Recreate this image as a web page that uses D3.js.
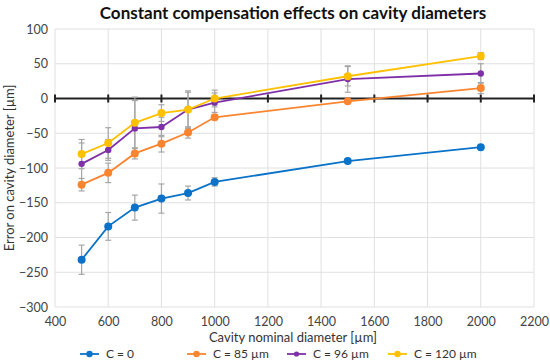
<!DOCTYPE html>
<html>
<head>
<meta charset="utf-8">
<script src="https://cdn.jsdelivr.net/npm/d3@7"></script>
<style>
  body { margin: 0; background: #fff; }
  svg { font-family: Lato, "Liberation Sans", sans-serif; }
</style>
</head>
<body>
<svg id="chart" width="550" height="364"></svg>
<script>
// nominal cavity diameters (µm)
const diameters = [500, 600, 700, 800, 900, 1000, 1500, 2000];

const seriesNames = ["C = 0", "C = 85 \u00b5m", "C = 96 \u00b5m", "C = 120 \u00b5m"];
const seriesColours = ["#0a72c8", "#f98530", "#7f30a8", "#ffc000"];

const valuesC0 = [-232, -184, -157, -144, -136, -120, -90, -70];
const valuesC85 = [-124, -107, -79, -65, -49, -27, -4, 15];
const valuesC96 = [-94, -74, -43, -41, -16, -6, 28, 36];
const valuesC120 = [-80, -64, -35, -21, -16, 0, 32, 61];

const errorsC0 = [21, 20, 18, 21, 10, 6, 0, 0];
const errorsC85 = [9, 14, 8, 12, 8, 3, 2, 8];
const errorsC96 = [30, 15, 40, 14, 25, 14, 19, 14];
const errorsC120 = [21, 22, 37, 12, 27, 12, 14, 5];

const xTicks = [400, 600, 800, 1000, 1200, 1400, 1600, 1800, 2000, 2200];
const yTicks = [100, 50, 0, -50, -100, -150, -200, -250, -300];

const series = [valuesC0, valuesC85, valuesC96, valuesC120].map((vals, i) => ({
    name: seriesNames[i],
    colour: seriesColours[i],
    points: vals.map((v, j) => ({ x: diameters[j], y: v, e: [errorsC0, errorsC85, errorsC96, errorsC120][i][j] }))
}));

const svg = d3.select("#chart");
const margin = { top: 29, right: 16, bottom: 57, left: 55 },
    width = 550 - margin.left - margin.right,
    height = 364 - margin.top - margin.bottom;

const x = d3.scaleLinear().domain([400, 2200]).range([margin.left, margin.left + width]);
const y = d3.scaleLinear().domain([-300, 100]).range([margin.top + height, margin.top]);

// gridlines
svg.append("g")
    .selectAll("line.v")
    .data(xTicks)
    .join("line")
    .attr("x1", d => x(d)).attr("x2", d => x(d))
    .attr("y1", margin.top).attr("y2", margin.top + height)
    .attr("stroke", "#e0e0e0").attr("stroke-width", 1);
svg.append("g")
    .selectAll("line.h")
    .data(yTicks)
    .join("line")
    .attr("x1", margin.left).attr("x2", margin.left + width)
    .attr("y1", d => y(d)).attr("y2", d => y(d))
    .attr("stroke", "#e0e0e0").attr("stroke-width", 1);

// tick labels
svg.append("g")
    .attr("transform", `translate(0,${margin.top + height})`)
    .call(d3.axisBottom(x).tickValues(xTicks).tickSize(0).tickPadding(10).tickFormat(d3.format("d")))
    .call(g => g.select(".domain").remove())
    .call(g => g.selectAll("text").attr("font-size", 12.5).attr("fill", "#444").attr("font-family", "Lato"));
svg.append("g")
    .attr("transform", `translate(${margin.left},0)`)
    .call(d3.axisLeft(y).tickValues(yTicks).tickSize(0).tickPadding(7)
        .tickFormat(d => d < 0 ? "\u2212" + Math.abs(d) : d))
    .call(g => g.select(".domain").remove())
    .call(g => g.selectAll("text").attr("font-size", 12.5).attr("fill", "#444").attr("font-family", "Lato"));

// zero line with tick marks
svg.append("line")
    .attr("x1", x(400)).attr("x2", x(2200))
    .attr("y1", y(0)).attr("y2", y(0))
    .attr("stroke", "#222").attr("stroke-width", 2);
svg.append("g")
    .selectAll("line")
    .data(xTicks)
    .join("line")
    .attr("x1", d => x(d)).attr("x2", d => x(d))
    .attr("y1", y(0) - 4).attr("y2", y(0) + 4)
    .attr("stroke", "#222").attr("stroke-width", 2);

// error bars
const errG = svg.append("g");
series.forEach(s => {
    s.points.filter(p => p.e > 0).forEach(p => {
        const g = errG.append("g").attr("stroke", "#a6a6a6").attr("stroke-width", 1.2);
        g.append("line").attr("x1", x(p.x)).attr("x2", x(p.x)).attr("y1", y(p.y - p.e)).attr("y2", y(p.y + p.e));
        g.append("line").attr("x1", x(p.x) - 3).attr("x2", x(p.x) + 3).attr("y1", y(p.y - p.e)).attr("y2", y(p.y - p.e));
        g.append("line").attr("x1", x(p.x) - 3).attr("x2", x(p.x) + 3).attr("y1", y(p.y + p.e)).attr("y2", y(p.y + p.e));
    });
});

// lines and markers
const line = d3.line().x(d => x(d.x)).y(d => y(d.y));
series.forEach((s, i) => {
    svg.append("path")
        .datum(s.points)
        .attr("fill", "none")
        .attr("stroke", s.colour)
        .attr("stroke-width", 1.8)
        .attr("d", line);
    svg.append("g")
        .selectAll("circle")
        .data(s.points)
        .join("circle")
        .attr("cx", d => x(d.x))
        .attr("cy", d => y(d.y))
        .attr("r", i === 2 ? 3.2 : 4)
        .attr("fill", s.colour);
});

// title and axis titles
svg.append("text")
    .attr("x", 293).attr("y", 19)
    .attr("text-anchor", "middle")
    .attr("font-size", 17).attr("font-weight", "bold").attr("fill", "#111")
    .text("Constant compensation effects on cavity diameters");

svg.append("text")
    .attr("x", 293).attr("y", 342)
    .attr("text-anchor", "middle")
    .attr("font-size", 13).attr("fill", "#333")
    .text("Cavity nominal diameter [\u00b5m]");

svg.append("text")
    .attr("transform", `translate(14,${margin.top + height / 2}) rotate(-90)`)
    .attr("text-anchor", "middle")
    .attr("font-size", 13).attr("fill", "#333")
    .text("Error on cavity diameter [\u00b5m]");

// legend
const legendX = [80, 187, 287, 388];
const legend = svg.append("g");
series.forEach((s, i) => {
    const g = legend.append("g").attr("transform", `translate(${legendX[i]},354)`);
    g.append("line").attr("x1", 0).attr("x2", 19).attr("stroke", s.colour).attr("stroke-width", 1.8);
    g.append("circle").attr("cx", 9.5).attr("r", i === 2 ? 2.6 : 3.2).attr("fill", s.colour);
    g.append("text").attr("x", 26).attr("dy", "0.35em")
        .attr("font-size", 12).attr("fill", "#333")
        .text(s.name);
});
</script>
</body>
</html>
